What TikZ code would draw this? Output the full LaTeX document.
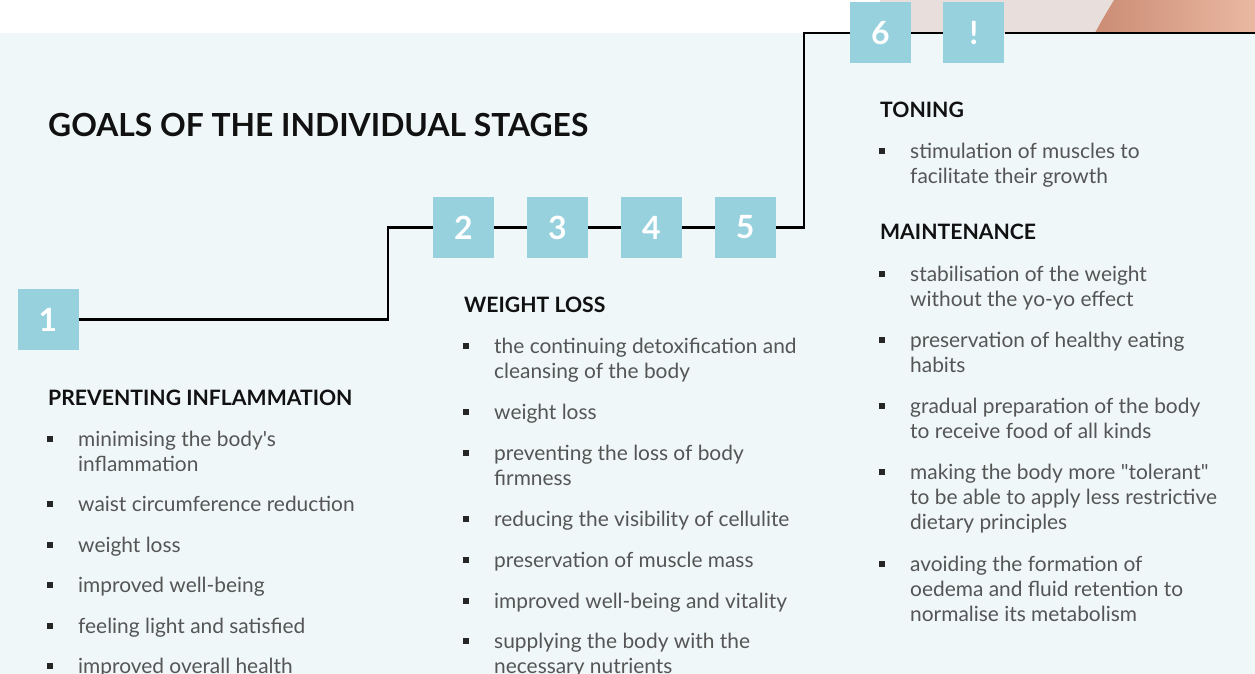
\documentclass[tikz,border=0pt]{standalone}
\usepackage{fontspec}
\setmainfont{Lato}[Ligatures=TeXOff]
\usetikzlibrary{positioning, calc}
\definecolor{bgblue}{RGB}{239, 247, 249}
\definecolor{stepblue}{RGB}{151, 209, 221}
\definecolor{textgrey}{RGB}{85, 85, 85}
\definecolor{headblack}{RGB}{17, 17, 17}
\definecolor{photopink}{RGB}{232, 223, 221}
\definecolor{skindark}{RGB}{203, 140, 116}
\definecolor{skinlight}{RGB}{234, 184, 162}

\tikzset{
  stepbox/.style={fill=stepblue, minimum size=61pt, inner sep=0pt, text=white, font=\fontsize{32}{32}\selectfont\bfseries},
  goalhead/.style={anchor=base west, inner sep=0pt, text=headblack, font=\fontsize{21.2}{24}\selectfont\bfseries},
  goaltext/.style={anchor=base west, inner sep=0pt, text=textgrey, font=\fontsize{20.9}{25.3}\selectfont},
  bulletsq/.style={fill=black!85, minimum size=5.5pt, inner sep=0pt},
  stepline/.style={line width=2.5pt, black}
}
% bullet and text of one goal: name, x, baseline, text
\newcommand{\goalitem}[4]{%
  \node[bulletsq] (#1-b) at (#2-28, #3-6) {};
  \node[goaltext] (#1) at (#2, #3+1) {\begin{tabular}[t]{@{}l@{}}#4\end{tabular}};
}

\begin{document}
\begin{tikzpicture}[x=1pt, y=-1pt]
  \useasboundingbox (0,0) rectangle (1255,674);

  % background and photo corner
  \fill[bgblue] (0,33) rectangle (1255,674);
  \fill[photopink] (880,0) rectangle (1255,33);
  \shade[left color=skindark, right color=skinlight] (1095,33) .. controls (1102,20) .. (1114,0) -- (1255,0) -- (1255,33) -- cycle;

  % title
  \node[anchor=base west, inner sep=0pt, text=headblack, font=\fontsize{31.8}{32}\selectfont\bfseries] (title) at (48,136) {GOALS OF THE INDIVIDUAL STAGES};

  % stage boxes
  \node[stepbox] (s1) at (48,319.5) {1};
  \node[stepbox] (s2) at (463.5,227.5) {2};
  \node[stepbox, right=32.5pt of s2] (s3) {3};
  \node[stepbox, right=32.5pt of s3] (s4) {4};
  \node[stepbox, right=32.5pt of s4] (s5) {5};
  \node[stepbox] (s6) at (880.5,33) {6};
  \node[stepbox, right=32pt of s6] (sx) {!};
  \coordinate (lineend) at (1255,33);

  % stair line
  \draw[stepline] (s1.east) -- (388,319.5) |- (s2.west);
  \draw[stepline] (s2) -- (s3) (s3) -- (s4) (s4) -- (s5);
  \draw[stepline] (s5.east) -- (804,227.5) |- (s6.west);
  \draw[stepline] (s6.east) -- (sx.west) (sx.east) -- (lineend);

  % stage 1
  \node[goalhead] (h1) at (48,405) {PREVENTING INFLAMMATION};
  \goalitem{p1}{78}{445}{minimising the body's\\inflammation}
  \goalitem{p2}{78}{510}{waist circumference reduction}
  \goalitem{p3}{78}{551}{weight loss}
  \goalitem{p4}{78}{591}{improved well-being}
  \goalitem{p5}{78}{632}{feeling light and satisfied}
  \goalitem{p6}{78}{672}{improved overall health}

  % stages 2-5
  \node[goalhead] (h2) at (464,312) {WEIGHT LOSS};
  \goalitem{w1}{494}{352}{the continuing detoxification and\\cleansing of the body}
  \goalitem{w2}{494}{418}{weight loss}
  \goalitem{w3}{494}{459}{preventing the loss of body\\firmness}
  \goalitem{w4}{494}{525}{reducing the visibility of cellulite}
  \goalitem{w5}{494}{566}{preservation of muscle mass}
  \goalitem{w6}{494}{607}{improved well-being and vitality}
  \goalitem{w7}{494}{647}{supplying the body with the\\necessary nutrients}

  % stage 6 and maintenance
  \node[goalhead] (h3) at (880,118) {TONING};
  \goalitem{t1}{910}{157}{stimulation of muscles to\\facilitate their growth}
  \node[goalhead] (h4) at (880,239) {MAINTENANCE};
  \goalitem{m1}{910}{280}{stabilisation of the weight\\without the yo-yo effect}
  \goalitem{m2}{910}{346}{preservation of healthy eating\\habits}
  \goalitem{m3}{910}{412}{gradual preparation of the body\\to receive food of all kinds}
  \goalitem{m4}{910}{478}{making the body more "tolerant"\\to be able to apply less restrictive\\dietary principles}
  \goalitem{m5}{910}{570}{avoiding the formation of\\oedema and fluid retention to\\normalise its metabolism}
\end{tikzpicture}
\end{document}
